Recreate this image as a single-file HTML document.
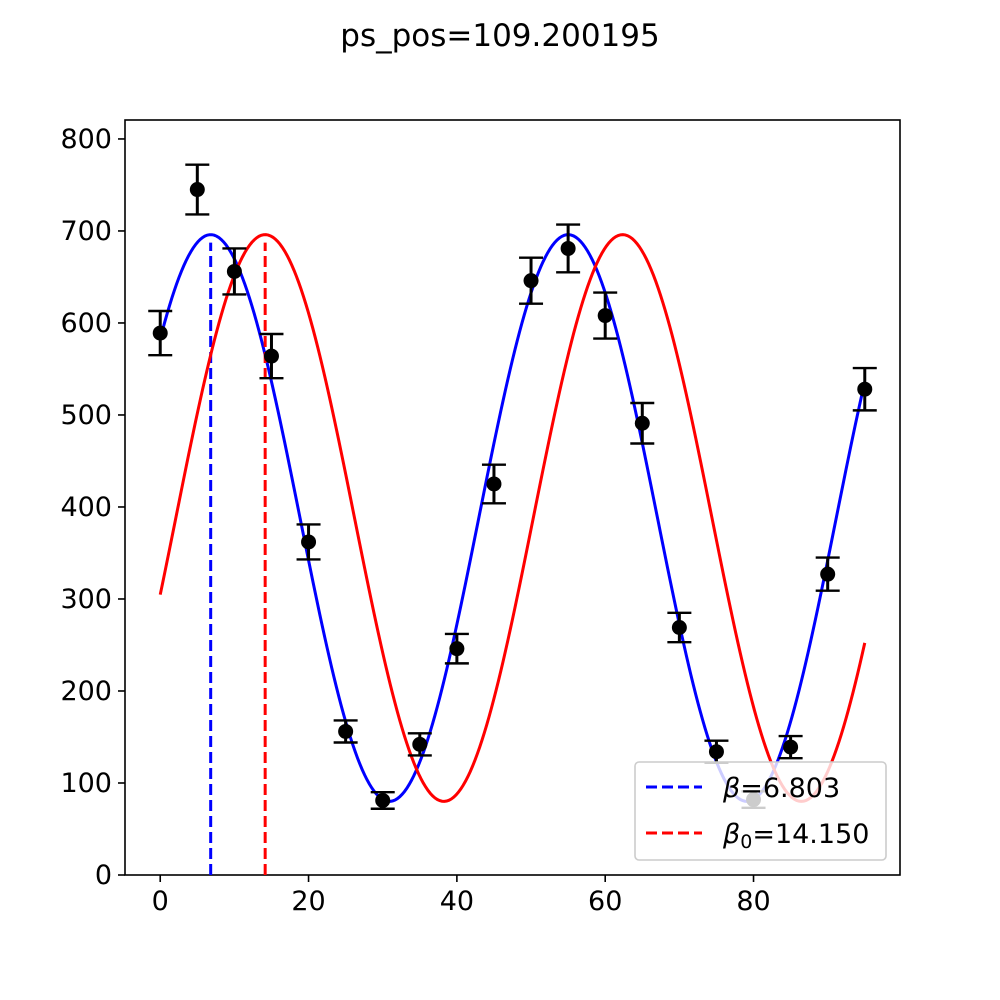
<!DOCTYPE html>
<html><head><meta charset="utf-8"><style>
body{margin:0;background:#fff}
svg{display:block}
text{font-family:"DejaVu Sans","Liberation Sans",sans-serif;fill:#000}
</style></head><body>
<svg id="chart" width="1000" height="1000" viewBox="0 0 1000 1000">
<rect width="1000" height="1000" fill="#fff"/>
<text x="500" y="46" font-size="31" text-anchor="middle">ps_pos=109.200195</text>
<g id="plot"></g>
</svg>
<script>
const xData=[0,5,10,15,20,25,30,35,40,45,50,55,60,65,70,75,80,85,90,95];
const yData=[589,745,656,564,362,156,81,142,246,425,646,681,608,491,269,134,82,139,327,528];
const yErr=[24,27,25,24,19,12,9,12,16,21,25,26,25,22,16,12,9,12,18,23];
const xTicks=[0,20,40,60,80];
const yTicks=[0,100,200,300,400,500,600,700,800];
const beta=6.803, beta0=14.150;
const amp=308, offset=388, period=48.2;
const L=125,R=900,T=120,B=875;
const xMin=-4.75,xMax=99.75,yMin=0,yMax=820.6;
const sx=v=>L+(v-xMin)/(xMax-xMin)*(R-L);
const sy=v=>B-(v-yMin)/(yMax-yMin)*(B-T);
const NS="http://www.w3.org/2000/svg";
const g=document.getElementById('plot');
function mk(t,a,p){const e=document.createElementNS(NS,t);for(const k in a)e.setAttribute(k,a[k]);(p||g).appendChild(e);return e;}
const model=(x,b)=>offset+amp*Math.cos(2*Math.PI*(x-b)/period);
const frame=mk('rect',{x:L,y:T,width:R-L,height:B-T,fill:'none',stroke:'#000','stroke-width':1.6});


xTicks.forEach(v=>{
 const t=mk('line',{x1:sx(v),x2:sx(v),y1:B,y2:B+7,stroke:'#000','stroke-width':1.6});
 
 
 const l=mk('text',{x:sx(v),y:B+35,'font-size':27,'text-anchor':'middle'});l.textContent=v;
 
 
});
yTicks.forEach(v=>{
 const t=mk('line',{x1:L-7,x2:L,y1:sy(v),y2:sy(v),stroke:'#000','stroke-width':1.6});
 
 
 const l=mk('text',{x:L-13,y:sy(v)+9,'font-size':27,'text-anchor':'end'});l.textContent=v;
 
 
});
function curve(b,color,name){
 let d='';for(let i=0;i<=300;i++){const x=95*i/300;d+=(i?'L':'M')+sx(x).toFixed(2)+','+sy(model(x,b)).toFixed(2);}
 const p=mk('path',{d:d,fill:'none',stroke:color,'stroke-width':3});
 
 
 const v=mk('line',{x1:sx(b),x2:sx(b),y1:B,y2:sy(model(b,b))+8,stroke:color,'stroke-width':3,'stroke-dasharray':'11,5'});
 
 
}
curve(beta,'#0000ff','fit-curve');
curve(beta0,'#ff0000','initial-curve');
xData.forEach((x,i)=>{
 const cx=sx(x),y=yData[i],e=yErr[i];
 const eg=mk('g',{});
 
 
 mk('line',{x1:cx,x2:cx,y1:sy(y-e),y2:sy(y+e),stroke:'#000','stroke-width':3},eg);
 mk('line',{x1:cx-12,x2:cx+12,y1:sy(y-e),y2:sy(y-e),stroke:'#000','stroke-width':2.4},eg);
 mk('line',{x1:cx-12,x2:cx+12,y1:sy(y+e),y2:sy(y+e),stroke:'#000','stroke-width':2.4},eg);
 mk('circle',{cx:cx,cy:sy(y),r:7.5,fill:'#000'},eg);
});
const lg=mk('g',{});


mk('rect',{x:635,y:762,width:251,height:98,rx:4,fill:'#fff','fill-opacity':0.8,stroke:'#cccccc','stroke-width':1.6},lg);
[['#0000ff','β','','=6.803',787],['#ff0000','β','0','=14.150',833]].forEach(([c,s,sub,txt,y])=>{
 const en=mk('g',{},lg);
 
 
 mk('line',{x1:646,x2:702,y1:y,y2:y,stroke:c,'stroke-width':3,'stroke-dasharray':'11,5'},en);
 const t=mk('text',{x:723,y:y+10,'font-size':27},en);
 const a=document.createElementNS(NS,'tspan');a.setAttribute('font-style','italic');a.textContent=s;t.appendChild(a);
 if(sub){const b=document.createElementNS(NS,'tspan');b.setAttribute('font-size','19');b.setAttribute('dy','5');b.textContent=sub;t.appendChild(b);
  const c2=document.createElementNS(NS,'tspan');c2.setAttribute('dy','-5');c2.textContent=txt;t.appendChild(c2);}
 else{const c2=document.createElementNS(NS,'tspan');c2.textContent=txt;t.appendChild(c2);}
});
</script>
</body></html>
